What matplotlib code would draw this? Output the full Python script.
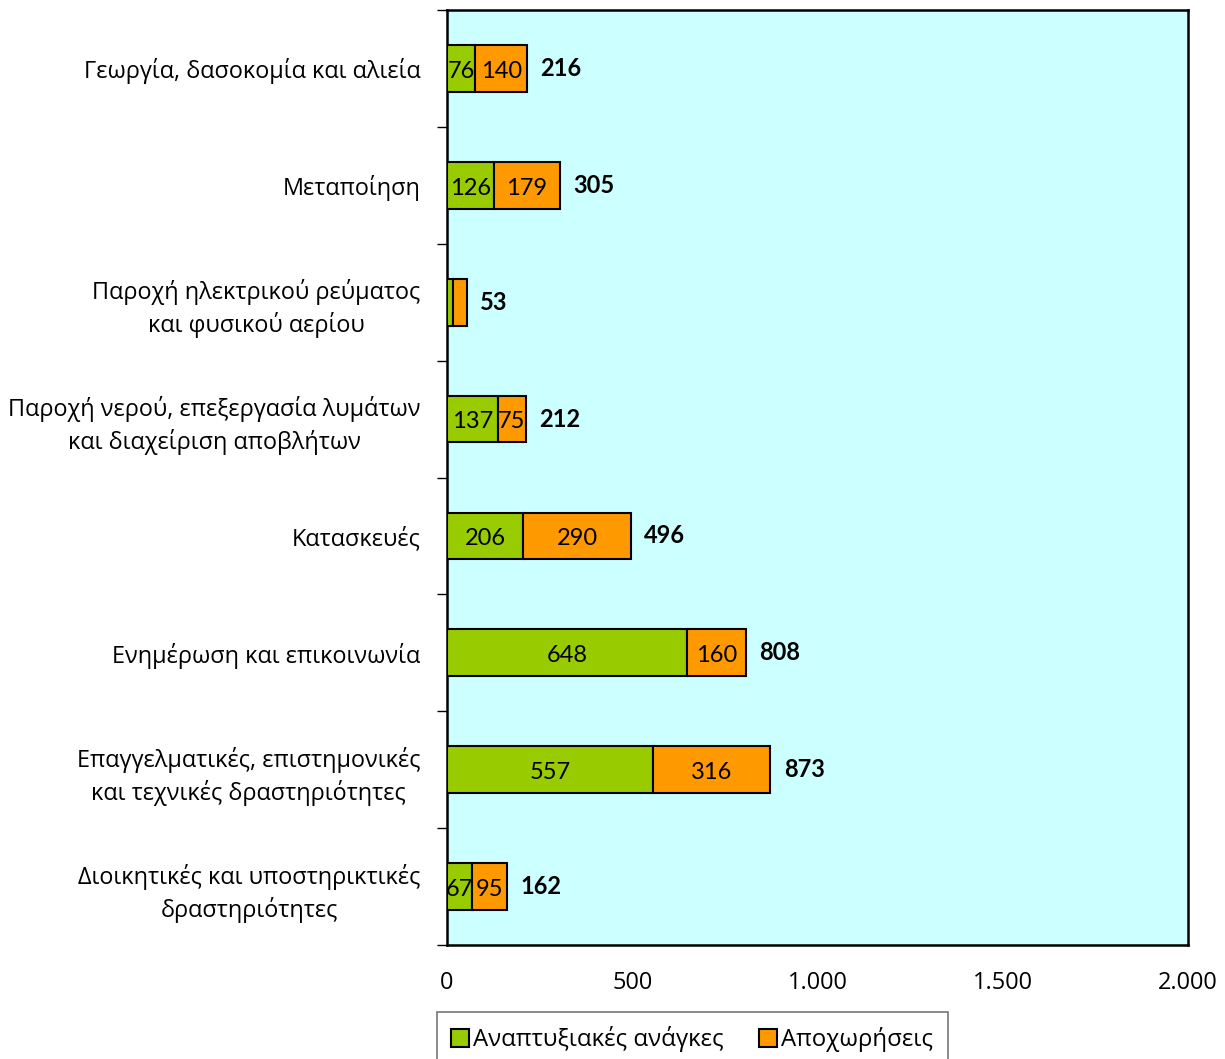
import matplotlib
matplotlib.use("Agg")
import matplotlib.pyplot as plt
from matplotlib.patches import Patch
from matplotlib.ticker import FuncFormatter, FixedLocator
import numpy as np

# Sectors (top to bottom) and their two components
categories = [
    "Γεωργία, δασοκομία και αλιεία",
    "Μεταποίηση",
    "Παροχή ηλεκτρικού ρεύματος\nκαι φυσικού αερίου",
    "Παροχή νερού, επεξεργασία λυμάτων\nκαι διαχείριση αποβλήτων",
    "Κατασκευές",
    "Ενημέρωση και επικοινωνία",
    "Επαγγελματικές, επιστημονικές\nκαι τεχνικές δραστηριότητες",
    "Διοικητικές και υποστηρικτικές\nδραστηριότητες",
]
development_needs = [76, 126, 16, 137, 206, 648, 557, 67]
retirements = [140, 179, 37, 75, 290, 160, 316, 95]
show_segment_labels = [True, True, False, True, True, True, True, True]
series_names = ["Αναπτυξιακές ανάγκες", "Αποχωρήσεις"]
x_ticks = [0, 500, 1000, 1500, 2000]

GREEN = "#99CC00"
ORANGE = "#FF9900"
BG = "#CCFFFF"
TEXT_FONT = ["Open Sans", "DejaVu Sans"]
NUM_FONT = ["Lato", "Open Sans", "DejaVu Sans"]
TXT_SIZE = 16.9
NUM_SIZE = 17

fig = plt.figure(figsize=(12.25, 10.59), dpi=100)
ax = fig.add_axes([447 / 1225, 1 - 945 / 1059, (1188 - 447) / 1225, (945 - 10) / 1059])
ax.set_facecolor(BG)

n = len(categories)
y = np.arange(n)
h = 0.4
dev = np.array(development_needs)
ret = np.array(retirements)
tot = dev + ret

ax.barh(y, dev, height=h, color=GREEN, edgecolor="black", linewidth=1.5, zorder=3)
ax.barh(y, ret, left=dev, height=h, color=ORANGE, edgecolor="black", linewidth=1.5, zorder=3)

for i in range(n):
    if show_segment_labels[i]:
        ax.annotate(f"{dev[i]}", (dev[i] / 2, y[i]), xytext=(0, -2),
                    textcoords="offset points", ha="center", va="center",
                    fontsize=NUM_SIZE, family=NUM_FONT, zorder=4)
        ax.annotate(f"{ret[i]}", (dev[i] + ret[i] / 2, y[i]), xytext=(0, -2),
                    textcoords="offset points", ha="center", va="center",
                    fontsize=NUM_SIZE, family=NUM_FONT, zorder=4)
    ax.annotate(f"{tot[i]}", (tot[i], y[i]), xytext=(9.5, 0), textcoords="offset points",
                ha="left", va="center", fontsize=NUM_SIZE, fontweight="bold",
                family=NUM_FONT, zorder=4)

ax.set_xlim(0, 2000)
ax.set_ylim(n - 0.5, -0.5)
ax.xaxis.set_major_locator(FixedLocator(x_ticks))
ax.xaxis.set_major_formatter(FuncFormatter(lambda v, p: f"{int(v):,}".replace(",", ".")))
ax.tick_params(axis="x", length=0, pad=18.5, labelsize=TXT_SIZE)
for lab in ax.get_xticklabels():
    lab.set_family(TEXT_FONT)

ax.set_yticks(y)
ax.set_yticklabels(categories, fontsize=TXT_SIZE, family=TEXT_FONT,
                   multialignment="center", linespacing=1.35)
ax.tick_params(axis="y", length=0, pad=19)
ax.set_yticks(np.arange(n + 1) - 0.5, minor=True)
ax.tick_params(axis="y", which="minor", length=7, width=1, color="black")

for s in ax.spines.values():
    s.set_linewidth(1.8)
    s.set_color("black")

handles = [Patch(facecolor=GREEN, edgecolor="black", linewidth=1.5),
           Patch(facecolor=ORANGE, edgecolor="black", linewidth=1.5)]
leg = fig.legend(handles, series_names, loc="upper center",
                 bbox_to_anchor=(0.565, 1 - 1012 / 1059), ncol=2, frameon=True,
                 fancybox=False, prop={"family": TEXT_FONT, "size": 17.3},
                 handlelength=0.75, handleheight=0.75, handletextpad=0.15,
                 columnspacing=1.5, borderpad=0.6, borderaxespad=0)
leg.get_frame().set_edgecolor("#555555")
leg.get_frame().set_linewidth(1.2)

fig.savefig("out.png", dpi=100)
